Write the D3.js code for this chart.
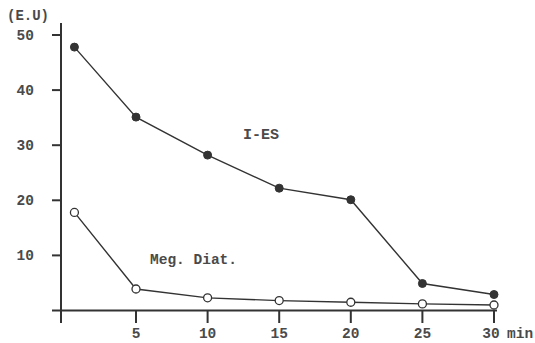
<!DOCTYPE html>
<html>
<head>
<script src="https://d3js.org/d3.v7.min.js"></script>
<style>
  body { margin: 0; background: #fff; }
  text { font-family: "Liberation Mono", "DejaVu Sans Mono", monospace; fill: #4a4a4a; font-weight: bold; }
</style>
</head>
<body>
<div id="chart"></div>
<script>
const times = [0.7, 5, 10, 15, 20, 25, 30];
const iesValues = [47.8, 35.1, 28.2, 22.2, 20.1, 4.9, 2.9];
const megValues = [17.8, 3.9, 2.3, 1.8, 1.5, 1.2, 1.0];
const xTicks = [5, 10, 15, 20, 25, 30];
const yTicks = [10, 20, 30, 40, 50];

const width = 535, height = 343;
const x = d3.scaleLinear().domain([0, 30]).range([64.4, 494]);
const y = d3.scaleLinear().domain([0, 50]).range([310.5, 35]);
const axisX = 61;

const svg = d3.select("#chart").append("svg")
    .attr("width", width).attr("height", height);

const ink = "#333";

// axes lines
svg.append("line").attr("x1", axisX).attr("x2", axisX).attr("y1", 23).attr("y2", 323)
    .attr("stroke", ink).attr("stroke-width", 2);
svg.append("line").attr("x1", 52).attr("x2", 497).attr("y1", y(0)).attr("y2", y(0))
    .attr("stroke", ink).attr("stroke-width", 2);

// y ticks
svg.selectAll(".yt").data(yTicks).join("line")
    .attr("x1", 52).attr("x2", axisX)
    .attr("y1", d => y(d)).attr("y2", d => y(d))
    .attr("stroke", ink).attr("stroke-width", 2);
svg.selectAll(".yl").data(yTicks).join("text")
    .attr("x", 34).attr("y", d => y(d) + 5)
    .attr("text-anchor", "end").attr("font-size", 14.5)
    .text(d => d);

// x ticks
svg.selectAll(".xt").data(xTicks).join("line")
    .attr("x1", d => x(d)).attr("x2", d => x(d))
    .attr("y1", y(0)).attr("y2", 323)
    .attr("stroke", ink).attr("stroke-width", 2);
svg.selectAll(".xl").data(xTicks).join("text")
    .attr("x", d => x(d) - (d === 30 ? 3 : 0)).attr("y", 338)
    .attr("text-anchor", "middle").attr("font-size", 14.5)
    .text(d => d);
svg.append("text").attr("x", 507).attr("y", 338).attr("font-size", 14.5).text("min");

svg.append("text").attr("x", 7).attr("y", 20).attr("font-size", 14).text("(E.U)");

// series
const line = d3.line().x(d => x(d[0])).y(d => y(d[1]));
const ies = times.map((t, i) => [t, iesValues[i]]);
const meg = times.map((t, i) => [t, megValues[i]]);

svg.append("path").attr("d", line(ies)).attr("fill", "none").attr("stroke", ink).attr("stroke-width", 1.4);
svg.append("path").attr("d", line(meg)).attr("fill", "none").attr("stroke", ink).attr("stroke-width", 1.4);

svg.selectAll(".pi").data(ies).join("circle")
    .attr("cx", d => x(d[0])).attr("cy", d => y(d[1])).attr("r", 4)
    .attr("fill", ink).attr("stroke", ink);
svg.selectAll(".pm").data(meg).join("circle")
    .attr("cx", d => x(d[0])).attr("cy", d => y(d[1])).attr("r", 4)
    .attr("fill", "#fff").attr("stroke", ink).attr("stroke-width", 1.3);

svg.append("text").attr("x", 243).attr("y", 139).attr("font-size", 15).text("I-ES");
svg.append("text").attr("x", 150).attr("y", 264).attr("font-size", 14.5).text("Meg. Diat.");
</script>
</body>
</html>
